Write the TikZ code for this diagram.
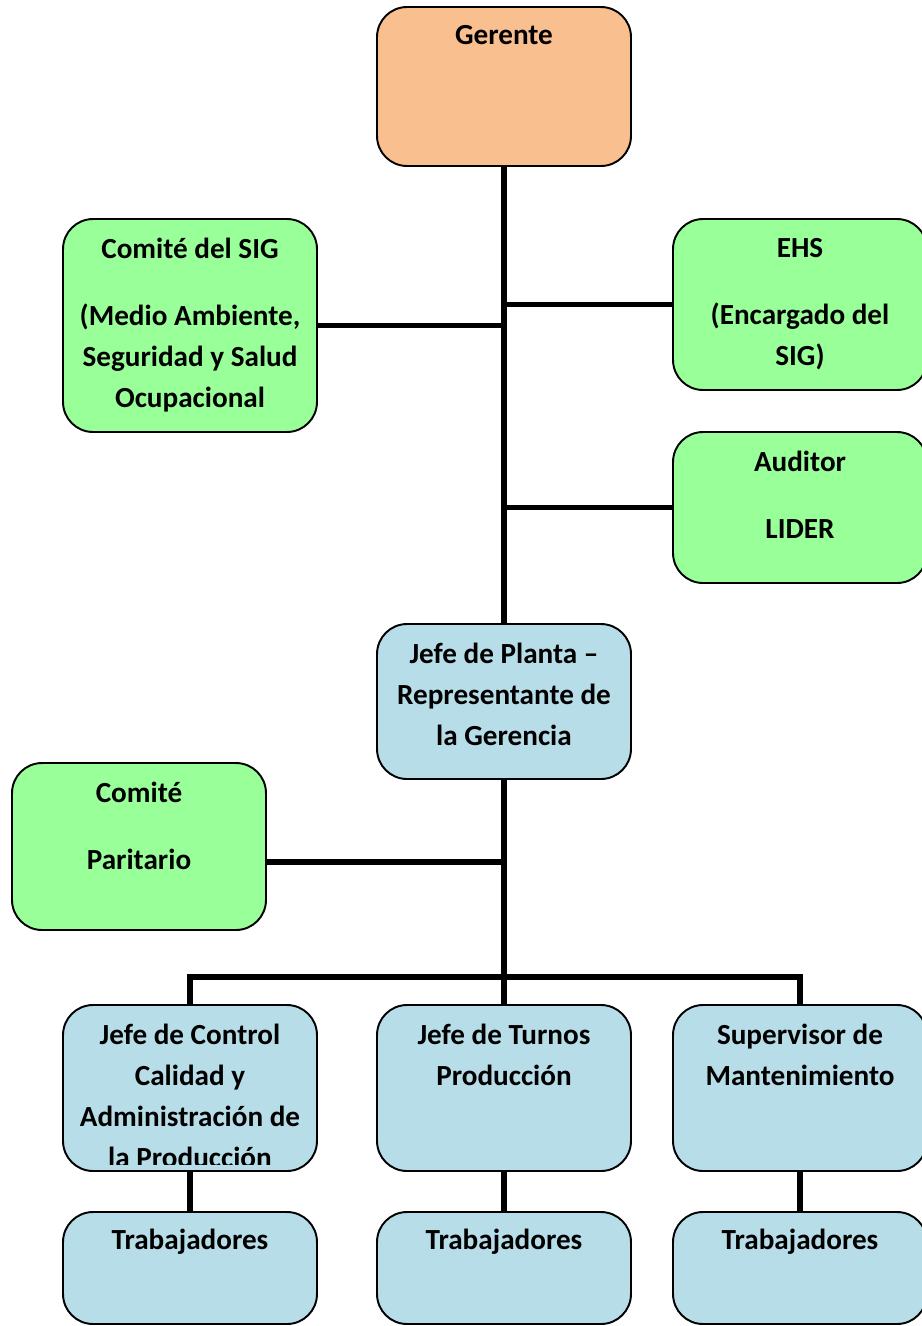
\documentclass[tikz,border=0pt]{standalone}
\usepackage{fontspec}
\setmainfont{Carlito}
\usetikzlibrary{positioning}
\definecolor{naranja}{HTML}{FABF8F}
\definecolor{verde}{HTML}{99FF99}
\definecolor{celeste}{HTML}{B7DEE8}
\tikzset{
  caja/.style={draw=black, line width=1.1pt, rounded corners=0.6cm, minimum width=5.08cm, inner sep=0pt},
  texto/.style={anchor=north, align=center, inner sep=0pt, yshift=-0.18cm,
    font=\bfseries\fontsize{16.6}{23.3}\selectfont, execute at begin node={\strut}},
  multi/.style={texto, yshift=-0.22cm},
  linea/.style={line width=3.2pt}
}
\begin{document}
\begin{tikzpicture}[x=0.02cm,y=-0.02cm]
\useasboundingbox (0,0) rectangle (922,1326);
% conectores
\coordinate (pjoin) at (504,862);
\coordinate (bus) at (504,977);
\node[caja, fill=naranja, minimum height=3.18cm] (gerente) at (504,86.5) {};
\node[caja, fill=verde, minimum height=4.26cm] (sig) at (190,325.5) {};
\node[caja, fill=verde, minimum height=3.42cm] (ehs) at (800,304.5) {};
\node[caja, fill=verde, minimum height=3.02cm] (auditor) at (800,507.5) {};
\node[caja, fill=celeste, minimum height=3.10cm] (planta) at (504,701.5) {};
\node[caja, fill=verde, minimum height=3.34cm] (paritario) at (139,846.5) {};
\node[caja, fill=celeste, minimum height=3.32cm] (control) at (190,1088) {};
\node[caja, fill=celeste, minimum height=3.32cm] (turnos) at (504,1088) {};
\node[caja, fill=celeste, minimum height=3.32cm] (superv) at (800,1088) {};
\node[caja, fill=celeste, minimum height=2.24cm] (trab1) at (190,1268) {};
\node[caja, fill=celeste, minimum height=2.24cm] (trab2) at (504,1268) {};
\node[caja, fill=celeste, minimum height=2.24cm] (trab3) at (800,1268) {};

\draw[linea] (gerente.south) -- (planta.north);
\draw[linea] (sig.east) -- (sig.east -| gerente.south);
\draw[linea] (ehs.west) -- (ehs.west -| gerente.south);
\draw[linea] (auditor.west) -- (auditor.west -| gerente.south);
\draw[linea] (planta.south) -- (turnos.north);
\draw[linea] (pjoin) -- (pjoin -| paritario.east);
\draw[linea] (control.north) |- (bus) -| (superv.north);
\draw[linea] (control.south) -- (trab1.north);
\draw[linea] (turnos.south) -- (trab2.north);
\draw[linea] (superv.south) -- (trab3.north);

% textos
\node[texto] (t-gerente) at (gerente.north) {Gerente};
\node[multi] (t-sig) at (sig.north) {Comité del SIG\\[0.52cm](Medio Ambiente,\\Seguridad y Salud\\Ocupacional};
\node[multi] (t-ehs) at (ehs.north) {EHS\\[0.52cm](Encargado del\\SIG)};
\node[multi] (t-auditor) at (auditor.north) {Auditor\\[0.52cm]LIDER};
\node[multi] (t-planta) at (planta.north) {Jefe de Planta –\\Representante de\\la Gerencia};
\node[multi] (t-paritario) at (paritario.north) {Comité\\[0.52cm]Paritario};
\begin{scope}
\clip ([yshift=0.14cm]control.south west) rectangle (control.north east);
\node[multi] (t-control) at (control.north) {Jefe de Control\\Calidad y\\Administración de\\la Producción};
\end{scope}
\node[multi] (t-turnos) at (turnos.north) {Jefe de Turnos\\Producción};
\node[multi] (t-superv) at (superv.north) {Supervisor de\\Mantenimiento};
\node[texto] (t-trab1) at (trab1.north) {Trabajadores};
\node[texto] (t-trab2) at (trab2.north) {Trabajadores};
\node[texto] (t-trab3) at (trab3.north) {Trabajadores};
\end{tikzpicture}
\end{document}
